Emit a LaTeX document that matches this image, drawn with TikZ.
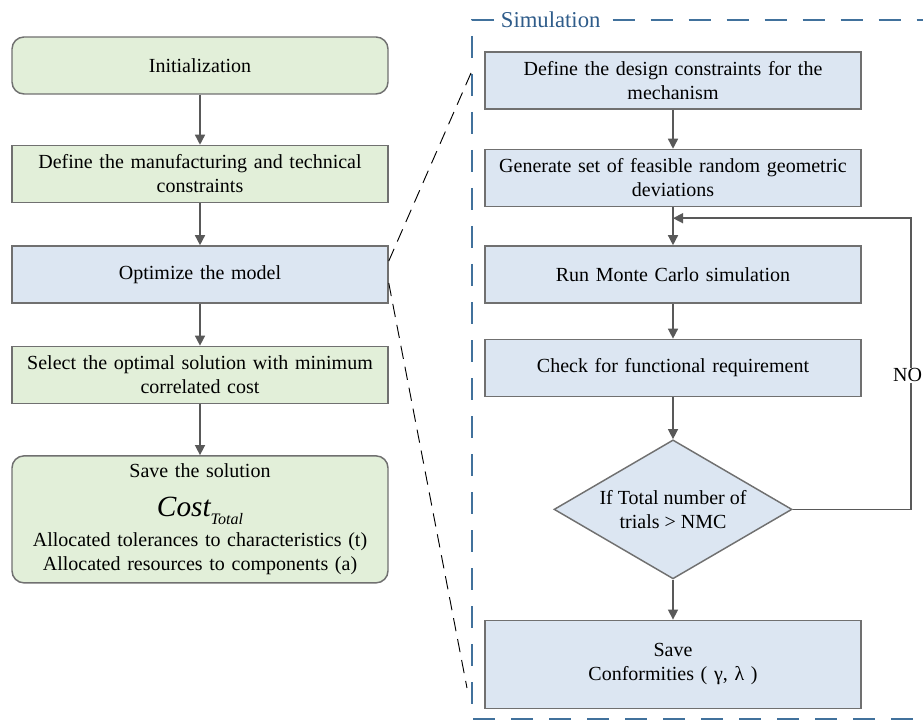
\documentclass[tikz,border=0pt]{standalone}
\usepackage{fontspec}
\setmainfont{LiberationSerif}[Extension=.ttf, UprightFont=*-Regular, ItalicFont=*-Italic, BoldFont=*-Bold, BoldItalicFont=*-BoldItalic]
\usetikzlibrary{positioning, arrows.meta, shapes.geometric}

\definecolor{boxgreen}{HTML}{E2EFD9}
\definecolor{boxblue}{HTML}{DCE6F2}
\definecolor{boxline}{HTML}{707070}
\definecolor{arrowgray}{HTML}{595959}
\definecolor{framecol}{HTML}{41719C}
\definecolor{labelcol}{HTML}{2F5C8A}

\tikzset{
	stepbox/.style={draw=boxline, line width=1.1pt, minimum width=282pt, minimum height=42.75pt, text width=270pt, align=center, inner sep=2pt, font=\fontsize{15}{18}\selectfont},
	greenbox/.style={stepbox, fill=boxgreen},
	bluebox/.style={stepbox, fill=boxblue},
	roundgreen/.style={greenbox, rounded corners=9pt},
	flow/.style={draw=arrowgray, line width=1.1pt, -{Triangle[length=7.5pt, width=7.5pt]}},
	zoomline/.style={black, line width=0.7pt, dash pattern=on 10pt off 6pt},
	frame/.style={draw=framecol, line width=1.1pt, dash pattern=on 16.5pt off 12pt}
}

\begin{document}
\begin{tikzpicture}[x=0.75pt, y=-0.75pt]
		\useasboundingbox (0,0) rectangle (923,723);
		
		\node[roundgreen] (init) at (200,65.5) {Initialization};
		\node[greenbox, below=37.5pt of init] (manuf) {Define the manufacturing and technical\\constraints};
		\node[bluebox, below=31.5pt of manuf] (opt) {Optimize the model};
		\node[greenbox, below=31.5pt of opt] (sel) {Select the optimal solution with minimum\\correlated cost};
		\node[roundgreen, below=38.25pt of sel, minimum height=95.25pt] (save) {Save the solution\\[11pt]
			{\fontsize{22}{24}\selectfont\itshape Cost\raisebox{-6pt}{\fontsize{12}{12}\selectfont Total}}\\[5pt]
			Allocated tolerances to characteristics (t)\\Allocated resources to components (a)};
		
		\node[anchor=west, inner xsep=5pt, inner ysep=1pt, text=labelcol, font=\fontsize{17}{20}\selectfont] (sim) at (494,20) {Simulation};
		\draw[frame] (sim.west) -- (472,20) -- (472,719) -- (990,719);
		\draw[frame] ([xshift=4pt]sim.east) -- (990,20) -- (990,719);
		
		\node[bluebox] (design) at (673,80.5) {Define the design constraints for the\\mechanism};
		\node[bluebox, below=29.25pt of design] (gen) {Generate set of feasible random geometric\\deviations};
		\node[bluebox, below=28.5pt of gen] (run) {Run Monte Carlo simulation};
		\node[bluebox, below=26.25pt of run] (check) {Check for functional requirement};
		\node[diamond, draw=boxline, fill=boxblue, line width=1.1pt, aspect=1.7, minimum width=178.5pt, minimum height=104.25pt, inner sep=0pt, align=center, font=\fontsize{15}{18}\selectfont, below=31.5pt of check] (dec) {If Total number of\\trials > NMC};
		\node[bluebox, below=30pt of dec, minimum height=66pt] (conf) {Save\\Conformities ( γ, λ )};
		
		\coordinate (zt) at (471,73);
		\coordinate (zb) at (467,688);
		\draw[zoomline] ([yshift=10pt]opt.east) -- (zt);
		\draw[zoomline] ([yshift=-6.4pt]opt.east) -- (zb);
		
		\draw[flow] (init) -- (manuf);
		\draw[flow] (manuf) -- (opt);
		\draw[flow] (opt) -- (sel);
		\draw[flow] (sel) -- (save);
		
		\draw[flow] (design) -- (gen);
		\draw[flow] (gen) -- (run);
		\draw[flow] (run) -- (check);
		\draw[flow] (check) -- (dec);
		\draw[flow] (dec) -- (conf);
		
		\coordinate (back) at ([yshift=-8.25pt]gen.south);
		\coordinate (nox) at (911,0);
		\draw[flow] (dec.east) -- (dec.east -| nox) |- node[pos=0.23, xshift=-2.5pt, fill=white, inner sep=0.5pt, font=\fontsize{15}{18}\selectfont] {NO} (back);
	\end{tikzpicture}
\end{document}
